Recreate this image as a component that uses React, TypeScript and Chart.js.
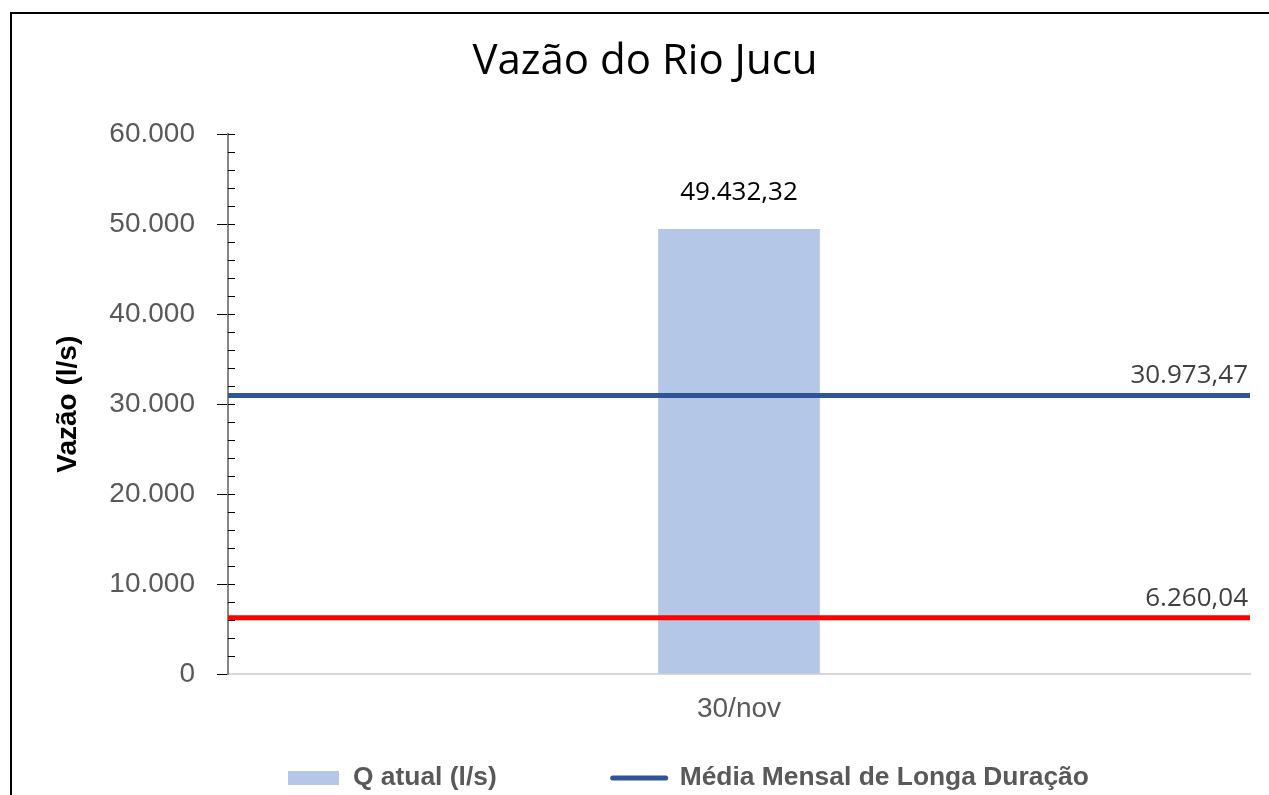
import React, { useEffect, useRef } from 'react';
import { Chart, registerables } from 'chart.js';

Chart.register(...registerables);

// ---- data ----
const chartTitle = 'Vazão do Rio Jucu';
const categories = ['30/nov'];
const qAtualLabel = 'Q atual (l/s)';
const qAtualValues = [49432.32];
const mediaLabel = 'Média Mensal de Longa Duração';
const mediaValues = [30973.47, 30973.47];
const referenciaLabel = 'Q7,10 (l/s)';
const referenciaValues = [6260.04, 6260.04];
const lineSpan = [0, 1];
const yTickValues = [0, 10000, 20000, 30000, 40000, 50000, 60000];
const yTickLabels = ['0', '10.000', '20.000', '30.000', '40.000', '50.000', '60.000'];
const yAxisTitle = 'Vazão (l/s)';

// ---- styles ----
const BAR_COLOR = '#b4c7e7';
const MEDIA_COLOR = '#2f5597';
const REF_COLOR = '#ff0000';
const AXIS_TEXT = '#595959';
const SANS = '"Liberation Sans", Arial, sans-serif';
const OPEN = '"Open Sans", sans-serif';

const CANVAS_W = 1266;
const CANVAS_H = 800;

function fmtBR(v: number): string {
  const [i, d] = v.toFixed(2).split('.');
  return i.replace(/\B(?=(\d{3})+(?!\d))/g, '.') + ',' + d;
}

const minorTicksPlugin = {
  id: 'minorTicks',
  beforeDatasetsDraw(chart: any) {
    const y = chart.scales.y;
    const { left } = chart.chartArea;
    const step = 2000;
    const ctx = chart.ctx;
    ctx.save();
    ctx.strokeStyle = '#000';
    ctx.lineWidth = 1;
    ctx.beginPath();
    for (let v = step; v <= y.max; v += step) {
      const py = Math.round(y.getPixelForValue(v)) + 0.5;
      ctx.moveTo(left, py);
      ctx.lineTo(left + 7, py);
    }
    ctx.stroke();
    ctx.restore();
  },
};

const valueLabelsPlugin = {
  id: 'valueLabels',
  afterDatasetsDraw(chart: any) {
    const ctx = chart.ctx;
    ctx.save();
    ctx.font = `26px ${OPEN}`;
    ctx.textBaseline = 'middle';
    const barMeta = chart.getDatasetMeta(0);
    barMeta.data.forEach((el: any, i: number) => {
      ctx.fillStyle = '#000';
      ctx.textAlign = 'center';
      ctx.fillText(fmtBR(qAtualValues[i]), el.x, el.y - 37);
    });
    [1, 2].forEach((di) => {
      const meta = chart.getDatasetMeta(di);
      const vals = di === 1 ? mediaValues : referenciaValues;
      const last = meta.data[meta.data.length - 1];
      ctx.fillStyle = '#404040';
      ctx.textAlign = 'right';
      ctx.fillText(fmtBR(vals[vals.length - 1]), last.x - 2, last.y - 19.5);
    });
    ctx.restore();
  },
};

const customLegendPlugin = {
  id: 'customLegend',
  afterDraw(chart: any) {
    const ctx = chart.ctx;
    const ds = chart.data.datasets;
    ctx.save();
    ctx.font = `bold 26.4px ${SANS}`;
    ctx.textBaseline = 'middle';
    ctx.textAlign = 'left';
    const cy = 764;
    let x = 276;
    const boxW = 51;
    const gapText = 14;
    const gapItem = 116;
    ctx.fillStyle = ds[0].backgroundColor;
    ctx.fillRect(x, cy - 7, boxW, 14);
    ctx.fillStyle = AXIS_TEXT;
    ctx.fillText(ds[0].label, x + boxW + gapText, cy);
    x = x + boxW + gapText + ctx.measureText(ds[0].label).width + gapItem;
    ctx.strokeStyle = ds[1].borderColor;
    ctx.lineWidth = 5;
    ctx.lineCap = 'round';
    ctx.beginPath();
    ctx.moveTo(x, cy);
    ctx.lineTo(x + 53, cy);
    ctx.stroke();
    ctx.fillStyle = AXIS_TEXT;
    ctx.fillText(ds[1].label, x + 53 + 14, cy);
    ctx.restore();
  },
};

export default function App() {
  const ref = useRef<HTMLCanvasElement>(null);

  useEffect(() => {
    const canvas = ref.current!;
    const chart = new Chart(canvas, {
      type: 'bar',
      data: {
        labels: categories,
        datasets: [
          {
            type: 'bar',
            label: qAtualLabel,
            data: qAtualValues,
            backgroundColor: BAR_COLOR,
            barThickness: 161,
            grouped: false,
            order: 2,
            xAxisID: 'x',
            yAxisID: 'y',
          } as any,
          {
            type: 'line',
            label: mediaLabel,
            data: lineSpan.map((x, i) => ({ x, y: mediaValues[i] })),
            borderColor: MEDIA_COLOR,
            backgroundColor: MEDIA_COLOR,
            borderWidth: 5,
            pointRadius: 0,
            borderCapStyle: 'round',
            order: 1,
            xAxisID: 'x2',
            yAxisID: 'y',
          } as any,
          {
            type: 'line',
            label: referenciaLabel,
            data: lineSpan.map((x, i) => ({ x, y: referenciaValues[i] })),
            borderColor: REF_COLOR,
            backgroundColor: REF_COLOR,
            borderWidth: 5,
            pointRadius: 0,
            borderCapStyle: 'round',
            order: 0,
            xAxisID: 'x2',
            yAxisID: 'y',
          } as any,
        ],
      },
      options: {
        responsive: false,
        animation: false,
        layout: { padding: { left: 0, right: 0, top: 0, bottom: 88 } },
        plugins: {
          legend: { display: false },
          tooltip: { enabled: false },
          title: {
            display: true,
            text: chartTitle,
            color: '#000',
            font: { family: OPEN, size: 42, weight: 'normal' },
            padding: { top: 23, bottom: 47 },
          },
        },
        scales: {
          x: {
            type: 'category',
            offset: true,
            grid: { display: false, drawTicks: false },
            border: { display: true, color: '#d9d9d9', width: 2 },
            ticks: { color: AXIS_TEXT, font: { family: SANS, size: 28 }, padding: 18 },
            afterFit: (s: any) => { s.height = 52; },
          },
          x2: { type: 'linear', min: 0, max: 1, offset: false, display: false },
          y: {
            type: 'linear',
            position: 'left',
            min: 0,
            max: 60000,
            afterBuildTicks: (s: any) => { s.ticks = yTickValues.map((v) => ({ value: v })); },
            ticks: {
              color: AXIS_TEXT,
              font: { family: SANS, size: 28 },
              padding: 22,
              callback: (v: any) => yTickLabels[yTickValues.indexOf(Number(v))],
            },
            grid: { drawOnChartArea: false, drawTicks: true, tickLength: 11, color: '#000', lineWidth: 1 },
            border: { display: true, color: '#868686', width: 2 },
            title: {
              display: true,
              text: yAxisTitle,
              color: '#000',
              font: { family: SANS, size: 28, weight: 'bold' },
              padding: { top: 39, bottom: 0 },
            },
            afterFit: (s: any) => { s.width = 216; },
          },
          yRightSpace: {
            type: 'linear',
            position: 'right',
            display: true,
            grid: { display: false, drawTicks: false },
            border: { display: false },
            ticks: { display: false },
            afterFit: (s: any) => { s.width = 28; },
          },
        },
      } as any,
      plugins: [minorTicksPlugin, valueLabelsPlugin, customLegendPlugin],
    });

    let alive = true;
    const fonts = (document as any).fonts;
    if (fonts && fonts.load) {
      Promise.all([
        fonts.load(`42px ${OPEN}`),
        fonts.load(`26px ${OPEN}`),
        fonts.load(`28px ${SANS}`),
        fonts.load(`bold 28px ${SANS}`),
      ]).then(() => { if (alive) chart.update(); }).catch(() => {});
    }
    return () => {
      alive = false;
      chart.destroy();
    };
  }, []);

  return (
    <div style={{ position: 'fixed', inset: 0, overflow: 'hidden', background: '#fff' }}>
      <div
        style={{
          position: 'absolute',
          left: 10,
          top: 12,
          width: CANVAS_W,
          height: CANVAS_H,
          borderLeft: '2px solid #000',
          borderTop: '2px solid #000',
        }}
      >
        <canvas
          ref={ref}
          width={CANVAS_W}
          height={CANVAS_H}
          style={{ display: 'block', width: CANVAS_W, height: CANVAS_H }}
        />
      </div>
    </div>
  );
}
